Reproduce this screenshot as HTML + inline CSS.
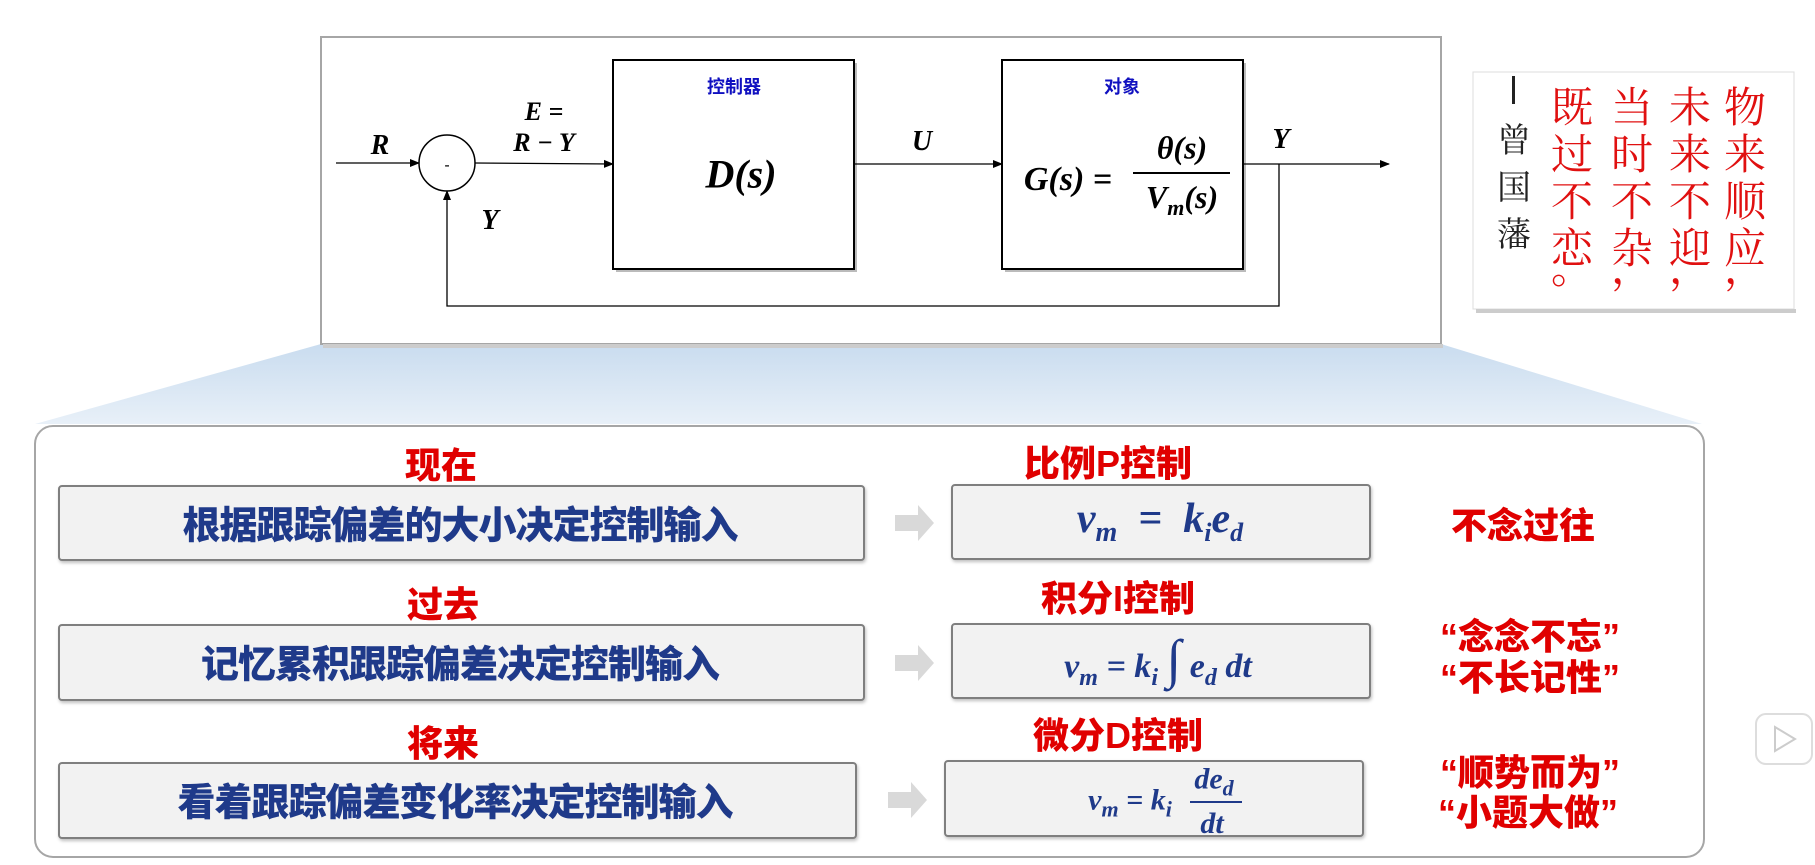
<!DOCTYPE html>
<html><head><meta charset="utf-8"><style>
body{margin:0;width:1815px;height:865px;background:#fff;position:relative;overflow:hidden;font-family:"Liberation Sans","Noto Sans CJK SC",sans-serif}
.a{position:absolute}
.m{font-family:"Liberation Serif",serif;font-style:italic;font-weight:bold;color:#000}
.c{transform:translate(-50%,-50%);white-space:nowrap}
.box{position:absolute;background:#f2f2f2;border:2px solid #7f7f7f;border-radius:4px;box-shadow:1px 2px 3px rgba(0,0,0,.25)}
.rt{font-weight:900;color:#1f3a8a;font-size:38px;font-family:"Noto Sans CJK SC",sans-serif;letter-spacing:-1px}
.red{font-weight:900;color:#e00000;font-size:36px;font-family:"Liberation Sans","Noto Sans CJK SC",sans-serif}
.f{font-family:"Liberation Serif",serif;font-style:italic;font-weight:bold;color:#1f3a8a}
.q{font-family:"Noto Serif CJK SC",serif;color:#e01010;font-size:42px;line-height:47px;width:50px;text-align:center}
.q .p{line-height:20px;height:20px;margin-top:-14px}
</style></head><body>
<svg class="a" style="left:0;top:0" width="1815" height="865">
<defs><linearGradient id="g" x1="0" y1="0" x2="0" y2="1"><stop offset="0" stop-color="#c9dcef"/><stop offset="1" stop-color="#e8f0f8"/></linearGradient>
<marker id="ar" markerWidth="10" markerHeight="10" refX="9" refY="5" orient="auto" markerUnits="userSpaceOnUse"><path d="M0,1 L10,5 L0,9z" fill="#000"/></marker></defs>
<polygon points="321,344 1441,344 1702,424 35,424" fill="url(#g)"/>
<rect x="321" y="37" width="1120" height="307" fill="#fff" stroke="#a6a6a6" stroke-width="2"/>
<rect x="323" y="344" width="1120" height="4" fill="#ccc"/>
<rect x="35" y="426" width="1669" height="431" rx="18" fill="#fff" stroke="#a6a6a6" stroke-width="2"/>
<rect x="616" y="63" width="241" height="209" fill="#bbb"/>
<rect x="613" y="60" width="241" height="209" fill="#fff" stroke="#000" stroke-width="2"/>
<rect x="1005" y="63" width="241" height="209" fill="#bbb"/>
<rect x="1002" y="60" width="241" height="209" fill="#fff" stroke="#000" stroke-width="2"/>
<circle cx="447" cy="163" r="28" fill="#fff" stroke="#000" stroke-width="1.5"/>
<text x="447" y="170" font-size="16" text-anchor="middle" font-family="Liberation Sans">-</text>
<line x1="336" y1="163" x2="419" y2="163" stroke="#000" stroke-width="1.3" marker-end="url(#ar)"/>
<line x1="475" y1="163" x2="613" y2="164" stroke="#000" stroke-width="1.3" marker-end="url(#ar)"/>
<line x1="854" y1="164" x2="1002" y2="164" stroke="#000" stroke-width="1.3" marker-end="url(#ar)"/>
<line x1="1243" y1="164" x2="1389" y2="164" stroke="#000" stroke-width="1.3" marker-end="url(#ar)"/>
<polyline points="1279,164 1279,306 447,306 447,191" fill="none" stroke="#000" stroke-width="1.3" marker-end="url(#ar)"/>
<line x1="1133" y1="173" x2="1230" y2="173" stroke="#000" stroke-width="2"/>
<rect x="1473" y="72" width="321" height="237" fill="#fff" stroke="#ddd"/>
<rect x="1476" y="309" width="320" height="4" fill="#ccc"/>
<g fill="#d9d9d9"><polygon points="895,515 918,515 918,505 934,523 918,541 918,531 895,531"/>
<polygon points="895,655 918,655 918,645 934,663 918,681 918,671 895,671"/>
<polygon points="888,792 911,792 911,782 927,800 911,818 911,808 888,808"/></g>
<rect x="1756" y="714" width="56" height="50" rx="10" fill="#fff" stroke="#ddd" stroke-width="2"/>
<path d="M1775,727 L1775,751 L1795,739z" fill="none" stroke="#ccc" stroke-width="2"/>
</svg>
<div class="a c" style="left:734px;top:86px;color:#1010c0;font-weight:bold;font-size:18px;font-family:'Noto Sans CJK SC',sans-serif">控制器</div>
<div class="a c" style="left:1122px;top:86px;color:#1010c0;font-weight:bold;font-size:18px;font-family:'Noto Sans CJK SC',sans-serif">对象</div>
<div class="a c m" style="left:741px;top:174px;font-size:40px">D(s)</div>
<div class="a c m" style="left:1068px;top:180px;font-size:34px">G(s) =</div>
<div class="a c m" style="left:1182px;top:148px;font-size:32px">θ(s)</div>
<div class="a c m" style="left:1182px;top:200px;font-size:32px">V<sub style="font-size:22px">m</sub>(s)</div>
<div class="a c m" style="left:380px;top:146px;font-size:28px">R</div>
<div class="a c m" style="left:544px;top:112px;font-size:26px">E =</div>
<div class="a c m" style="left:544px;top:143px;font-size:26px">R − Y</div>
<div class="a c m" style="left:922px;top:142px;font-size:28px">U</div>
<div class="a c m" style="left:1281px;top:140px;font-size:28px">Y</div>
<div class="a c m" style="left:490px;top:221px;font-size:28px">Y</div>
<div class="a q" style="left:1720px;top:82px"><div>物</div><div>来</div><div>顺</div><div>应</div><div class="p">，</div></div>
<div class="a q" style="left:1665px;top:82px"><div>未</div><div>来</div><div>不</div><div>迎</div><div class="p">，</div></div>
<div class="a q" style="left:1607px;top:82px"><div>当</div><div>时</div><div>不</div><div>杂</div><div class="p">，</div></div>
<div class="a q" style="left:1547px;top:82px"><div>既</div><div>过</div><div>不</div><div>恋</div><div class="p">。</div></div>
<div class="a" style="left:1512px;top:76px;width:3px;height:28px;background:#222"></div>
<div class="a q" style="left:1489px;top:114px;color:#222;font-size:34px;line-height:47px">曾<br>国<br>藩</div>

<div class="box" style="left:58px;top:485px;width:803px;height:72px"></div>
<div class="box" style="left:58px;top:624px;width:803px;height:73px"></div>
<div class="box" style="left:58px;top:762px;width:795px;height:73px"></div>
<div class="box" style="left:951px;top:484px;width:416px;height:72px"></div>
<div class="box" style="left:951px;top:623px;width:416px;height:72px"></div>
<div class="box" style="left:944px;top:760px;width:416px;height:73px"></div>
<div class="a c rt" style="left:460px;top:522px">根据跟踪偏差的大小决定控制输入</div>
<div class="a c rt" style="left:460px;top:661px">记忆累积跟踪偏差决定控制输入</div>
<div class="a c rt" style="left:455px;top:799px">看着跟踪偏差变化率决定控制输入</div>
<div class="a c red" style="left:441px;top:463px">现在</div>
<div class="a c red" style="left:443px;top:602px">过去</div>
<div class="a c red" style="left:443px;top:741px">将来</div>
<div class="a c red" style="left:1108px;top:461px">比例P控制</div>
<div class="a c red" style="left:1118px;top:596px">积分I控制</div>
<div class="a c red" style="left:1118px;top:733px">微分D控制</div>
<div class="a c red" style="left:1523px;top:523px">不念过往</div>
<div class="a c red" style="left:1530px;top:634px">“念念不忘”</div>
<div class="a c red" style="left:1530px;top:675px">“不长记性”</div>
<div class="a c red" style="left:1530px;top:770px">“顺势而为”</div>
<div class="a c red" style="left:1528px;top:810px">“小题大做”</div>
<div class="a c f" style="left:1160px;top:522px;font-size:42px">v<sub style="font-size:28px">m</sub>&nbsp; = &nbsp;k<sub style="font-size:26px">i</sub>e<sub style="font-size:26px">d</sub></div>
<div class="a c f" style="left:1158px;top:660px;font-size:34px">v<sub style="font-size:24px">m</sub> = k<sub style="font-size:24px">i</sub> <span style="font-size:54px;font-weight:normal">∫</span> e<sub style="font-size:24px">d</sub> dt</div>
<div class="a c f" style="left:1130px;top:803px;font-size:30px">v<sub style="font-size:22px">m</sub> = k<sub style="font-size:22px">i</sub></div>
<div class="a c f" style="left:1214px;top:782px;font-size:30px">de<sub style="font-size:22px">d</sub></div>
<div class="a" style="left:1190px;top:801px;width:52px;height:2px;background:#1f3a8a"></div>
<div class="a c f" style="left:1212px;top:824px;font-size:30px">dt</div>
</body></html>
